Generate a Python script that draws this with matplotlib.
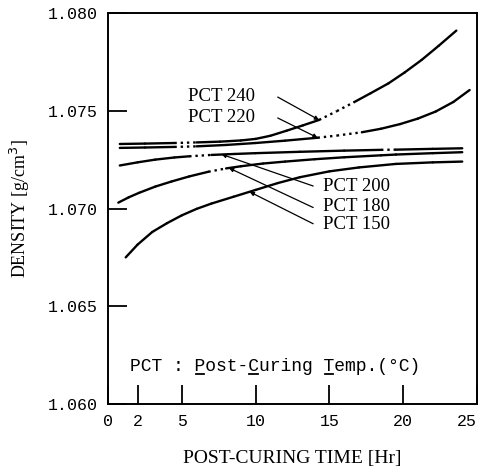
import numpy as np
import matplotlib
matplotlib.use("Agg")
import matplotlib.pyplot as plt
from matplotlib.lines import Line2D
from matplotlib.transforms import IdentityTransform

# density [g/cm3] vs post-curing time [Hr]
t_240 = [0.8, 2.5, 4.5, 6.0, 7.6, 9.0, 10.0, 11.0, 12.1, 13.2, 14.3, 15.5, 16.7, 17.8,
         19.0, 20.1, 21.25, 22.4, 23.6]
d_240 = [1.0733, 1.07332, 1.07335, 1.07338, 1.07342, 1.07348, 1.07356, 1.07372, 1.07398,
         1.07425, 1.07453, 1.07498, 1.07545, 1.0759, 1.0764, 1.07696, 1.0776, 1.07832, 1.0791]

t_220 = [0.8, 2.5, 4.5, 6.0, 8.0, 10.0, 12.0, 14.2, 15.5, 17.2, 18.5, 19.8, 21.0, 22.2,
         23.4, 24.5]
d_220 = [1.0731, 1.07312, 1.07315, 1.07318, 1.07325, 1.07335, 1.07347, 1.07362, 1.07373,
         1.0739, 1.07408, 1.07432, 1.0746, 1.07496, 1.07545, 1.07606]

t_200 = [0.8, 2.0, 3.2, 4.5, 5.5, 7.0, 8.6, 10.0, 13.0, 16.0, 18.5, 19.5, 22.0, 24.0]
d_200 = [1.0722, 1.07236, 1.0725, 1.07261, 1.07267, 1.07274, 1.07279, 1.07283, 1.0729,
         1.07296, 1.073, 1.07301, 1.07305, 1.07308]

t_180 = [0.7, 1.4, 2.1, 3.2, 4.3, 5.5, 6.8, 8.0, 9.0, 10.5, 12.0, 14.0, 16.0, 18.5, 19.5,
         22.0, 24.0]
d_180 = [1.0703, 1.07057, 1.0708, 1.07112, 1.07138, 1.07164, 1.07188, 1.07205, 1.07216,
         1.0723, 1.0724, 1.07252, 1.07262, 1.07272, 1.07276, 1.07283, 1.07288]

t_150 = [1.2, 2.0, 3.0, 4.0, 5.0, 6.0, 7.0, 8.5, 10.0, 11.5, 13.0, 15.0, 17.0, 19.5, 22.0, 24.0]
d_150 = [1.0675, 1.06815, 1.0688, 1.06925, 1.06965, 1.06998, 1.07025, 1.0706, 1.07095,
         1.0713, 1.0716, 1.0719, 1.0721, 1.07228, 1.07236, 1.0724]

labels = ["PCT 240", "PCT 220", "PCT 200", "PCT 180", "PCT 150"]
# segments (by point index) drawn dotted, like the gaps in the original print
dotted = [[2, 10, 11], [2, 7, 8], [4, 10], [6], []]

x_ticks = [0, 2, 5, 10, 15, 20, 25]
y_ticks = [1.060, 1.065, 1.070, 1.075, 1.080]

mono = "Liberation Mono"
serif = "Liberation Serif"

fig = plt.figure(figsize=(4.84, 4.69), dpi=100)
ax = fig.add_axes([108 / 484, 1 - 404 / 469, 369 / 484, 391 / 469])

series = [(t_240, d_240), (t_220, d_220), (t_200, d_200), (t_180, d_180), (t_150, d_150)]
for (t, d), dots in zip(series, dotted):
    for i in range(len(t) - 1):
        ls = ":" if i in dots else "-"
        ax.plot(t[i:i + 2], d[i:i + 2], color="black", lw=1.7, ls=ls,
                solid_capstyle="round")

# curve labels with pointer arrows: (text pos, arrow tail, arrow tip)
label_pos = [(5.4, 1.07575), (5.4, 1.07463), (14.6, 1.0711), (14.6, 1.0701), (14.6, 1.0692)]
arrow_from = [(11.5, 1.0757), (11.5, 1.07463), (13.9, 1.07115), (13.9, 1.07005), (13.9, 1.06922)]
arrow_to = [(14.3, 1.07453), (14.2, 1.07362), (7.7, 1.07277), (8.2, 1.07207), (9.6, 1.07085)]
for lab, p, a, b in zip(labels, label_pos, arrow_from, arrow_to):
    ax.text(p[0], p[1], lab, family=serif, fontsize=13.5, va="center", ha="left")
    ax.annotate("", xy=b, xytext=a,
                arrowprops=dict(arrowstyle="-|>", color="black", lw=0.9,
                                mutation_scale=6, shrinkA=0, shrinkB=0))

note = "PCT : Post-Curing Temp.(\u00b0C)"
note_txt = ax.text(1.5, 1.0619, note, family=mono, fontsize=13, va="center", ha="left")

ax.set_xlim(0, 25)
ax.set_ylim(1.060, 1.080)
ax.set_xticks(x_ticks)
ax.set_yticks(y_ticks)
ax.set_xticklabels([str(v) for v in x_ticks], family=mono, fontsize=12)
ax.set_yticklabels(["%.3f" % v for v in y_ticks], family=mono, fontsize=12)
ax.get_xticklabels()[-1].set_horizontalalignment("right")
ax.tick_params(direction="in", length=14, width=1.3, color="black")
ax.tick_params(axis="y", pad=7)
ax.tick_params(axis="x", pad=7)
for s in ax.spines.values():
    s.set_linewidth(1.4)

ax.set_xlabel("POST-CURING TIME [Hr]", family=serif, fontsize=14, labelpad=15)
ax.set_ylabel("DENSITY [g/cm$^3$]", family=serif, fontsize=13, labelpad=12)

# underline the P, C, T initials of the note (monospace, so equal char widths)
fig.canvas.draw()
bb = note_txt.get_window_extent()
cw = bb.width / len(note)
for idx in [6, 11, 18]:
    x0 = bb.x0 + idx * cw + 1
    fig.add_artist(Line2D([x0, x0 + cw - 2], [bb.y0 + 1, bb.y0 + 1], color="black",
                          lw=1.3, transform=IdentityTransform()))

plt.savefig("out.png", dpi=100)
